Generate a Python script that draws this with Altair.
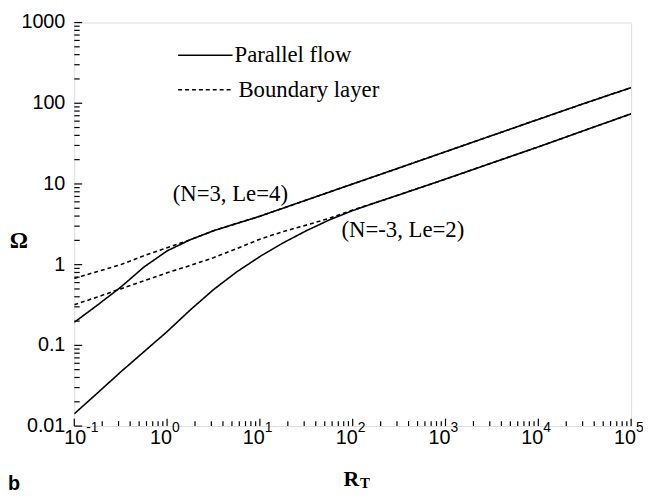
import altair as alt
import pandas as pd

# ---- data ----
par_n3_x = [0.1, 0.178, 0.316, 0.562, 1, 1.78, 3.16, 5.62, 10, 31.6, 100, 316, 1000, 3162, 1e4, 31623, 1e5]
par_n3_y = [0.193, 0.316, 0.525, 0.933, 1.48, 2.04, 2.63, 3.24, 3.98, 6.31, 10, 15.8, 25.1, 39.8, 63.1, 100, 156]

bl_n3_x = [0.1, 0.178, 0.316, 0.562, 1, 1.78, 3.16, 5.62, 10, 31.6, 100, 316, 1000, 3162, 1e4, 31623, 1e5]
bl_n3_y = [0.676, 0.822, 1.0, 1.29, 1.62, 2.04, 2.63, 3.24, 3.98, 6.31, 10, 15.8, 25.1, 39.8, 63.1, 100, 156]

par_nm3_x = [0.1, 0.178, 0.316, 0.562, 1, 1.78, 3.16, 5.62, 10, 17.8, 31.6, 56.2, 100, 178, 316, 1000, 3162, 1e4, 31623, 1e5]
par_nm3_y = [0.0142, 0.0257, 0.0468, 0.0832, 0.148, 0.275, 0.49, 0.813, 1.26, 1.86, 2.63, 3.59, 4.68, 5.89, 7.33, 11.5, 18.2, 28.8, 46.2, 74]

bl_nm3_x = [0.1, 0.178, 0.316, 0.562, 1, 1.78, 3.16, 5.62, 10, 17.8, 31.6, 56.2, 100, 178, 316, 1000, 3162, 1e4, 31623, 1e5]
bl_nm3_y = [0.318, 0.398, 0.501, 0.631, 0.794, 0.977, 1.22, 1.58, 2.07, 2.57, 3.09, 3.76, 4.75, 5.89, 7.33, 11.5, 18.2, 28.8, 46.2, 74]

models = ["Parallel flow", "Boundary layer"]
x_major = [0.1, 1, 10, 100, 1000, 1e4, 1e5]
x_exp = ["-1", "0", "1", "2", "3", "4", "5"]
y_major = [0.01, 0.1, 1, 10, 100, 1000]
y_labels = ["0.01", "0.1", "1", "10", "100", "1000"]
x_minor = [m * 10.0 ** d for d in range(-1, 5) for m in range(2, 10)]
y_minor = [m * 10.0 ** d for d in range(-2, 3) for m in range(2, 10)]

annot_text = ["(N=3, Le=4)", "(N=-3, Le=2)"]
annot_x = [4.8, 347]
annot_y = [7.5, 2.65]

rows = []
for xs, ys, case, model in [
    (par_n3_x, par_n3_y, "N3", models[0]),
    (bl_n3_x, bl_n3_y, "N3", models[1]),
    (par_nm3_x, par_nm3_y, "Nm3", models[0]),
    (bl_nm3_x, bl_nm3_y, "Nm3", models[1]),
]:
    for i, (a, b) in enumerate(zip(xs, ys)):
        rows.append({"x": a, "y": b, "case": case, "model": model, "order": i})
df = pd.DataFrame(rows)

xs_ = alt.Scale(type="log", domain=[0.1, 1e5], nice=False)
ys_ = alt.Scale(type="log", domain=[0.01, 1000], nice=False)

W, H = 563, 408
SERIF = "Liberation Serif"
SANS = "Liberation Sans"

curves = alt.Chart(df).mark_line(color="black", strokeWidth=1.6, clip=True).encode(
    x=alt.X("x:Q", scale=xs_, axis=None),
    y=alt.Y("y:Q", scale=ys_, axis=None),
    strokeDash=alt.StrokeDash("model:N", scale=alt.Scale(domain=models, range=[[1, 0], [4, 3]]),
                              legend=None),
    detail="case:N",
    order="order:Q",
)

xmin_df = pd.DataFrame({"v": x_minor})
xmaj_df = pd.DataFrame({"v": x_major, "e": x_exp})
ymin_df = pd.DataFrame({"v": y_minor})
ymaj_df = pd.DataFrame({"v": y_major, "t": y_labels})

xminor = alt.Chart(xmin_df).mark_rule(color="black", strokeWidth=1.2).encode(
    x=alt.X("v:Q", scale=xs_, axis=None), y=alt.value(H), y2=alt.value(H - 5))
xmajor = alt.Chart(xmaj_df).mark_rule(color="black", strokeWidth=1.2).encode(
    x=alt.X("v:Q", scale=xs_, axis=None), y=alt.value(H), y2=alt.value(H - 7.5))
yminor = alt.Chart(ymin_df).mark_rule(color="black", strokeWidth=1.2).encode(
    y=alt.Y("v:Q", scale=ys_, axis=None), x=alt.value(0), x2=alt.value(5.5))
ymajor = alt.Chart(ymaj_df).mark_rule(color="black", strokeWidth=1.2).encode(
    y=alt.Y("v:Q", scale=ys_, axis=None), x=alt.value(0), x2=alt.value(8))

ylab = alt.Chart(ymaj_df).mark_text(font=SANS, fontSize=20, align="right", baseline="middle",
                                    color="black").encode(
    y=alt.Y("v:Q", scale=ys_, axis=None), x=alt.value(-9), text="t:N")


def xlabels(filt, dx):
    base = alt.Chart(xmaj_df).transform_filter(filt)
    ten = base.mark_text(font=SANS, fontSize=20, align="right", baseline="middle",
                         dx=dx, color="black").encode(
        x=alt.X("v:Q", scale=xs_, axis=None), y=alt.value(H + 12), text=alt.value("10"))
    ex = base.mark_text(font=SANS, fontSize=14, align="left", baseline="middle",
                        dx=dx, color="black").encode(
        x=alt.X("v:Q", scale=xs_, axis=None), y=alt.value(H + 2), text="e:N")
    return [ten, ex]


xl_first = xlabels(alt.datum.v < 0.5, 12)
xl_rest = xlabels(alt.datum.v > 0.5, 5)

ann_df = pd.DataFrame({"t": annot_text, "x": annot_x, "y": annot_y})
annots = alt.Chart(ann_df).mark_text(font=SERIF, fontSize=23, color="black").encode(
    x=alt.X("x:Q", scale=xs_, axis=None), y=alt.Y("y:Q", scale=ys_, axis=None), text="t:N")

leg_df = pd.DataFrame({"m": models})
leg_solid = alt.Chart(leg_df.iloc[[0]]).mark_rule(color="black", strokeWidth=1.6).encode(
    x=alt.value(105), x2=alt.value(160), y=alt.value(33))
leg_dash = alt.Chart(leg_df.iloc[[1]]).mark_rule(color="black", strokeWidth=1.6, strokeDash=[4, 3]).encode(
    x=alt.value(105), x2=alt.value(158), y=alt.value(68))
leg_t1 = alt.Chart(leg_df.iloc[[0]]).mark_text(font=SERIF, fontSize=23, align="left", baseline="middle",
                                               color="black").encode(
    x=alt.value(162), y=alt.value(33), text="m:N")
leg_t2 = alt.Chart(leg_df.iloc[[1]]).mark_text(font=SERIF, fontSize=23, align="left", baseline="middle",
                                               color="black").encode(
    x=alt.value(166), y=alt.value(68), text="m:N")

omega = alt.Chart(leg_df.iloc[[0]]).mark_text(font=SERIF, fontSize=23, fontWeight="bold",
                                              baseline="middle", color="black").encode(
    x=alt.value(-56), y=alt.value(221), text=alt.value("Ω"))
r_t = alt.Chart(leg_df.iloc[[0]]).mark_text(font=SERIF, fontSize=22, fontWeight="bold",
                                            baseline="middle", align="right", color="black").encode(
    x=alt.value(288), y=alt.value(462), text=alt.value("R"))
r_sub = alt.Chart(leg_df.iloc[[0]]).mark_text(font=SERIF, fontSize=15, fontWeight="bold",
                                              baseline="middle", align="left", color="black").encode(
    x=alt.value(289), y=alt.value(466), text=alt.value("T"))
b_lab = alt.Chart(leg_df.iloc[[0]]).mark_text(font=SANS, fontSize=20, fontWeight="bold",
                                              baseline="middle", align="left", color="black").encode(
    x=alt.value(-67), y=alt.value(467), text=alt.value("b"))

chart = alt.layer(
    curves, xminor, xmajor, yminor, ymajor, ylab, *xl_first, *xl_rest, annots,
    leg_solid, leg_dash, leg_t1, leg_t2, omega, r_t, r_sub, b_lab,
).properties(
    width=W, height=H, autosize="none",
    padding={"left": 67, "top": 12, "right": 12, "bottom": 68},
).configure_view(stroke="black", strokeWidth=2).configure(background="white")

chart.save("out.html", embed_options={"renderer": "svg", "actions": False})
